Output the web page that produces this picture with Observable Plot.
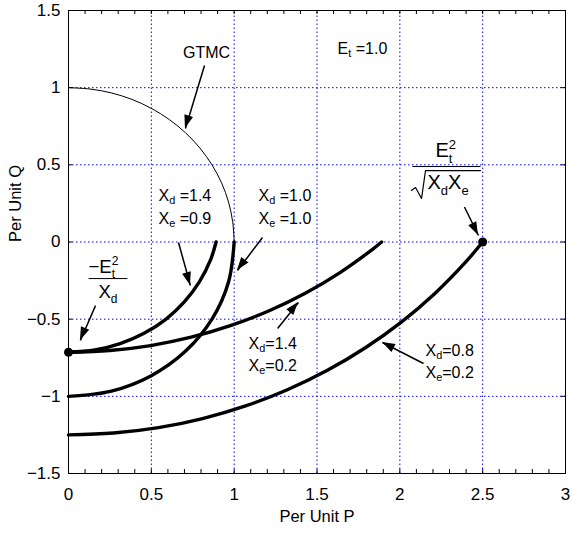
<!DOCTYPE html>
<html><head><meta charset="utf-8">
<script src="https://cdn.jsdelivr.net/npm/d3@7"></script>
<script src="https://cdn.jsdelivr.net/npm/@observablehq/plot@0.6"></script>
<style>body{margin:0;background:#fff}</style>
</head><body><div id="chart"></div>
<script>
// Axis ticks
const xTicks = [0, 0.5, 1, 1.5, 2, 2.5, 3];
const yTicks = [-1.5, -1, -0.5, 0, 0.5, 1, 1.5];
const xGrid = [0.5, 1, 1.5, 2, 2.5];
const yGrid = [-1, -0.5, 0, 0.5, 1];
const xMinor = [0,0.1,0.2,0.3,0.4,0.5,0.6,0.7,0.8,0.9,1,1.1,1.2,1.3,1.4,1.5,1.6,1.7,1.8,1.9,2,2.1,2.2,2.3,2.4,2.5,2.6,2.7,2.8,2.9,3];

// Curves [P, Q]
const gtmc = [[0,1],[0.131,0.991],[0.259,0.966],[0.383,0.924],[0.5,0.866],[0.609,0.793],[0.707,0.707],[0.793,0.609],[0.866,0.5],[0.924,0.383],[0.966,0.259],[0.991,0.131],[1,0]];
const xd14xe09 = [[0,-0.714],[0.159,-0.700],[0.312,-0.659],[0.456,-0.592],[0.587,-0.501],[0.699,-0.388],[0.790,-0.258],[0.858,-0.114],[0.891,0]];
const xd10xe10 = [[0,-1],[0.259,-0.966],[0.5,-0.866],[0.707,-0.707],[0.866,-0.5],[0.966,-0.259],[1,0]];
const xd14xe02 = [[0,-0.714],[0.249,-0.703],[0.496,-0.671],[0.740,-0.617],[0.977,-0.542],[1.208,-0.447],[1.429,-0.332],[1.639,-0.198],[1.837,-0.046],[1.890,0]];
const xd08xe02 = [[0,-1.25],[0.272,-1.238],[0.543,-1.203],[0.809,-1.144],[1.069,-1.062],[1.321,-0.957],[1.563,-0.831],[1.792,-0.685],[2.009,-0.519],[2.210,-0.335],[2.394,-0.134],[2.5,0]];
const points = [[0,-0.714],[2.5,0]];

// Annotations
const titleLabels = [
  {t:"GTMC", p:0.833, q:1.228}
];
const labels = [
  {t:"E_{t} =1.0", p:1.624, q:1.254},
  {t:"X_{d} =1.4", p:0.543, q:0.301},
  {t:"X_{e} =0.9", p:0.543, q:0.152},
  {t:"X_{d} =1.0", p:1.147, q:0.301},
  {t:"X_{e} =1.0", p:1.147, q:0.152},
  {t:"X_{d}=1.4", p:1.087, q:-0.658},
  {t:"X_{e}=0.2", p:1.087, q:-0.800},
  {t:"X_{d}=0.8", p:2.155, q:-0.703},
  {t:"X_{e}=0.2", p:2.155, q:-0.846}
];
const fracLeft = [
  {t:"−E_{t}^{2}", p:0.121, q:-0.162},
  {t:"X_{d}", p:0.181, q:-0.324}
];
const fracRight = [
  {t:"E_{t}^{2}", p:2.215, q:0.590},
  {t:"X_{d}X_{e}", p:2.167, q:0.382}
];
const radical = [[2.070,0.334],[2.095,0.353],[2.131,0.282],[2.155,0.463],[2.487,0.463]];
const bars = [
  {p1:0.121, p2:0.356, q:-0.237},
  {p1:2.076, p2:2.487, q:0.489}
];
const arrows = [
  {p1:0.821, q1:1.144, p2:0.706, q2:0.735},
  {p1:0.664, q1:-0.003, p2:0.736, q2:-0.282},
  {p1:1.171, q1:0.029, p2:1.020, q2:-0.185},
  {p1:0.163, q1:-0.412, p2:0.072, q2:-0.638},
  {p1:1.262, q1:-0.560, p2:1.388, q2:-0.392},
  {p1:2.143, q1:-0.787, p2:1.895, q2:-0.651},
  {p1:2.390, q1:0.227, p2:2.475, q2:0.042}
];

const NS = "http://www.w3.org/2000/svg";
function arrowHeads(data) {
  return (index, scales) => {
    const g = document.createElementNS(NS, "g");
    for (const a of data) {
      const x1 = scales.x(a.p1), y1 = scales.y(a.q1), x2 = scales.x(a.p2), y2 = scales.y(a.q2);
      const ang = Math.atan2(y2 - y1, x2 - x1);
      const L = 13, Wd = 4.5;
      const bx = x2 - L * Math.cos(ang), by = y2 - L * Math.sin(ang);
      const px = -Math.sin(ang) * Wd, py = Math.cos(ang) * Wd;
      const path = document.createElementNS(NS, "path");
      path.setAttribute("d", `M${x2},${y2}L${bx + px},${by + py}L${bx - px},${by - py}Z`);
      path.setAttribute("fill", "black");
      g.appendChild(path);
    }
    return g;
  };
}

const curveStyle = {x: d => d[0], y: d => d[1], stroke: "black", strokeWidth: 3.4, curve: "catmull-rom"};
const fmt = d3.format("~g");

const chart = Plot.plot({
  width: 573, height: 533,
  marginLeft: 68, marginRight: 8, marginTop: 10, marginBottom: 60,
  x: {domain: [0, 3], ticks: xTicks, tickSize: 0, tickPadding: 14, label: null, tickFormat: fmt},
  y: {domain: [-1.5, 1.5], ticks: yTicks, tickSize: 0, tickPadding: 8, label: null, tickFormat: fmt},
  style: {fontFamily: "'Liberation Sans', Arial, sans-serif", fontSize: "17px", color: "black", background: "white"},
  marks: [
    Plot.ruleX(xGrid, {x: d => d, y1: -1.5, y2: 1.5, stroke: "#0000ff", strokeWidth: 1, strokeDasharray: "1.5,2.5"}),
    Plot.ruleY(yGrid, {y: d => d, x1: 0, x2: 3, stroke: "#0000ff", strokeWidth: 1, strokeDasharray: "1.5,2.5"}),
    Plot.ruleX(xMinor, {x: d => d, y1: -1.5, y2: -1.474, stroke: "black"}),
    Plot.ruleX(xMinor, {x: d => d, y1: 1.5, y2: 1.474, stroke: "black"}),
    Plot.ruleY(yTicks, {y: d => d, x1: 0, x2: 0.025, stroke: "black"}),
    Plot.ruleY(yTicks, {y: d => d, x1: 3, x2: 2.975, stroke: "black"}),
    Plot.line(gtmc, {x: d => d[0], y: d => d[1], stroke: "black", strokeWidth: 1, curve: "catmull-rom"}),
    Plot.line(xd14xe09, curveStyle),
    Plot.line(xd10xe10, curveStyle),
    Plot.line(xd14xe02, curveStyle),
    Plot.line(xd08xe02, curveStyle),
    Plot.link(arrows, {x1: "p1", y1: "q1", x2: "p2", y2: "q2", stroke: "black", strokeWidth: 1.5}),
    arrowHeads(arrows),
    Plot.link(bars, {x1: "p1", x2: "p2", y1: "q", y2: "q", stroke: "black", strokeWidth: 1}),
    Plot.line(radical, {x: d => d[0], y: d => d[1], stroke: "black", strokeWidth: 1.2}),
    Plot.text(titleLabels, {x: "p", y: "q", text: "t", textAnchor: "middle", fontSize: 16, fill: "black"}),
    Plot.text(labels, {x: "p", y: "q", text: "t", textAnchor: "start", fontSize: 16, fill: "black"}),
    Plot.text(fracLeft, {x: "p", y: "q", text: "t", textAnchor: "start", fontSize: 18.5, fill: "black"}),
    Plot.text(fracRight, {x: "p", y: "q", text: "t", textAnchor: "start", fontSize: 20, fill: "black"}),
    Plot.dot(points, {x: d => d[0], y: d => d[1], r: 4.5, fill: "black", stroke: "none"}),
    Plot.frame({stroke: "black"}),
    Plot.text(["Per Unit P"], {frameAnchor: "bottom", dy: 48, text: d => d, fontSize: 16.5, fill: "black"}),
    Plot.text(["Per Unit Q"], {frameAnchor: "left", dx: -53, rotate: -90, text: d => d, fontSize: 16.5, fill: "black"})
  ]
});
document.getElementById("chart").appendChild(chart);

function richify(root) {
  root.querySelectorAll("text").forEach(el => {
    const s = el.textContent;
    if (!/[_^]\{/.test(s)) return;
    const fs = parseFloat(getComputedStyle(el).fontSize) || 14;
    const big = fs >= 18;
    while (el.firstChild) el.removeChild(el.firstChild);
    const re = /([_^])\{([^}]*)\}|([^_^]+)/g;
    let m, off = 0, lastSub = null;
    while ((m = re.exec(s))) {
      const ts = document.createElementNS(NS, "tspan");
      if (m[3]) {
        if (off !== 0) ts.setAttribute("dy", -off);
        off = 0;
        ts.textContent = m[3];
        el.appendChild(ts);
        lastSub = null;
      } else {
        const target = m[1] === "_" ? (big ? 0.3 : 0.22) * fs : -0.42 * fs;
        if (target - off !== 0) ts.setAttribute("dy", target - off);
        off = target;
        ts.setAttribute("font-size", (big ? 0.65 : 0.68) * fs);
        ts.textContent = m[2];
        el.appendChild(ts);
        if (m[1] === "^" && lastSub) ts.setAttribute("dx", -lastSub.getComputedTextLength());
        lastSub = m[1] === "_" ? ts : null;
      }
    }
  });
}
richify(chart);
</script>
</body></html>
